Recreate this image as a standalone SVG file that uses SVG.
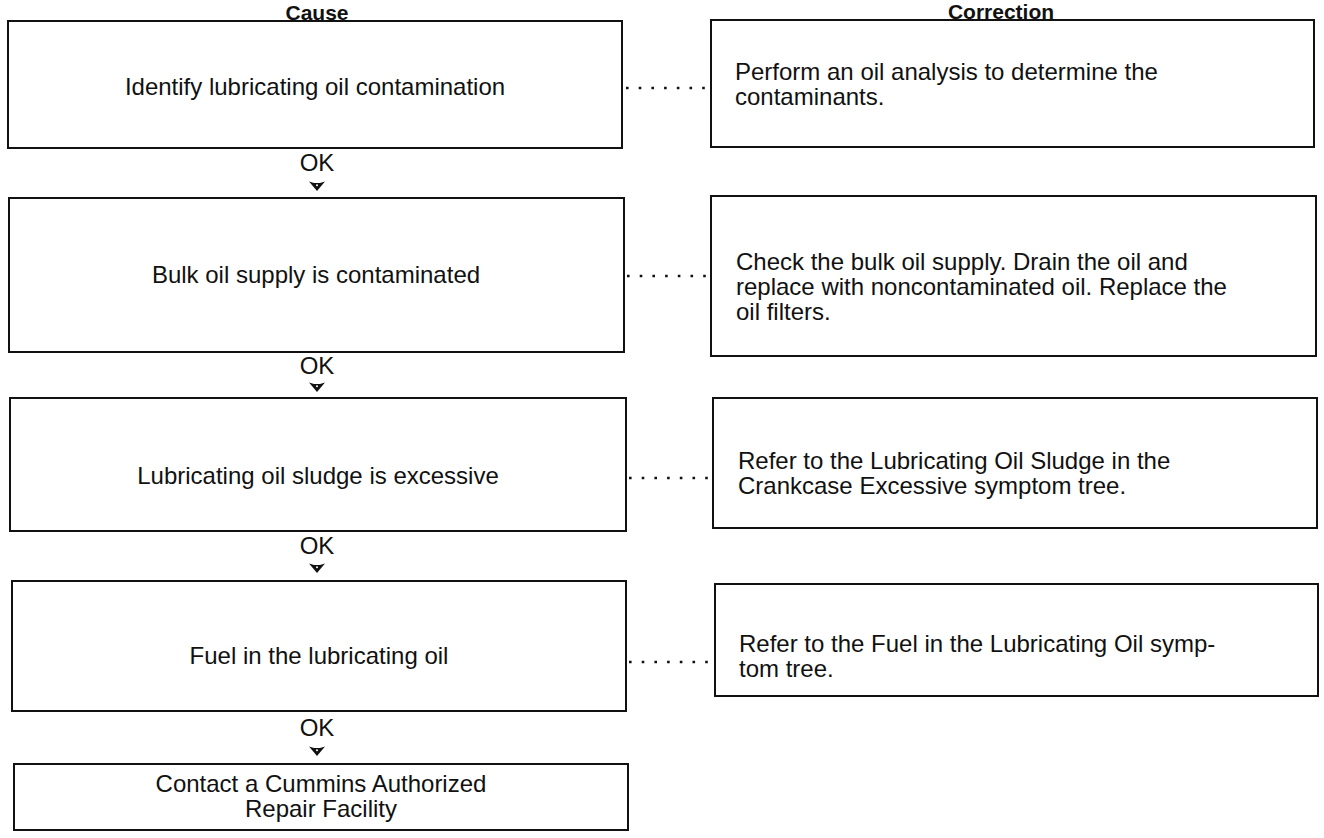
<svg xmlns="http://www.w3.org/2000/svg" width="1324" height="838" viewBox="0 0 1324 838">
  <defs>
    <style>
      .box { fill: #ffffff; stroke: #111111; stroke-width: 2; }
      .txt { font-family: "Liberation Sans", Arial, sans-serif; font-size: 24px; fill: #111111; }
      .ctr { text-anchor: middle; }
      .hdr { font-family: "Liberation Sans", Arial, sans-serif; font-size: 21px; font-weight: bold; fill: #111111; text-anchor: middle; }
      .dots { stroke: #111111; stroke-width: 2.6; stroke-dasharray: 2.6 10.1; fill: none; }
      .arrow { fill: #111111; }
      .hole { fill: #ffffff; }
    </style>
    <g id="arr">
      <path d="M -8 -4.5 L -3 -3 L 3 -3 L 8 -4.5 L 0 5 Z"/>
      <circle class="hole" cx="0" cy="-0.8" r="1"/>
    </g>
  </defs>
  <rect width="1324" height="838" fill="#ffffff"/>

  <g id="headers">
    <text class="hdr" x="317" y="20">Cause</text>
    <text class="hdr" x="1001" y="19">Correction</text>
  </g>

  <g id="connectors">
    <line class="dots" x1="626" y1="88" x2="708" y2="88"/>
    <line class="dots" x1="627" y1="276" x2="708" y2="276"/>
    <line class="dots" x1="629" y1="478" x2="710" y2="478"/>
    <line class="dots" x1="629" y1="662" x2="712" y2="662"/>
    <g class="ok">
      <text class="txt ctr" x="317" y="171">OK</text>
      <use href="#arr" class="arrow" x="317" y="186"/>
      <text class="txt ctr" x="317" y="374">OK</text>
      <use href="#arr" class="arrow" x="317" y="387"/>
      <text class="txt ctr" x="317" y="554">OK</text>
      <use href="#arr" class="arrow" x="317" y="568"/>
      <text class="txt ctr" x="317" y="736">OK</text>
      <use href="#arr" class="arrow" x="317" y="751"/>
    </g>
  </g>

  <g id="cause1">
    <rect class="box" x="8" y="21" width="614" height="127"/>
    <text class="txt ctr" x="315" y="95">Identify lubricating oil contamination</text>
  </g>
  <g id="cause2">
    <rect class="box" x="9" y="198" width="615" height="154"/>
    <text class="txt ctr" x="316" y="283">Bulk oil supply is contaminated</text>
  </g>
  <g id="cause3">
    <rect class="box" x="10" y="398" width="616" height="133"/>
    <text class="txt ctr" x="318" y="484">Lubricating oil sludge is excessive</text>
  </g>
  <g id="cause4">
    <rect class="box" x="12" y="581" width="614" height="130"/>
    <text class="txt ctr" x="319" y="664">Fuel in the lubricating oil</text>
  </g>
  <g id="cause5">
    <rect class="box" x="14" y="764" width="614" height="66"/>
    <text class="txt ctr" x="321" y="792">Contact a Cummins Authorized</text>
    <text class="txt ctr" x="321" y="817">Repair Facility</text>
  </g>

  <g id="correction1">
    <rect class="box" x="711" y="20" width="603" height="127"/>
    <text class="txt" x="735" y="80">Perform an oil analysis to determine the</text>
    <text class="txt" x="735" y="105">contaminants.</text>
  </g>
  <g id="correction2">
    <rect class="box" x="711" y="196" width="605" height="160"/>
    <text class="txt" x="736" y="270">Check the bulk oil supply. Drain the oil and</text>
    <text class="txt" x="736" y="295">replace with noncontaminated oil. Replace the</text>
    <text class="txt" x="736" y="320">oil filters.</text>
  </g>
  <g id="correction3">
    <rect class="box" x="713" y="398" width="604" height="130"/>
    <text class="txt" x="738" y="469">Refer to the Lubricating Oil Sludge in the</text>
    <text class="txt" x="738" y="494">Crankcase Excessive symptom tree.</text>
  </g>
  <g id="correction4">
    <rect class="box" x="715" y="584" width="603" height="112"/>
    <text class="txt" x="739" y="652">Refer to the Fuel in the Lubricating Oil symp-</text>
    <text class="txt" x="739" y="677">tom tree.</text>
  </g>
</svg>
